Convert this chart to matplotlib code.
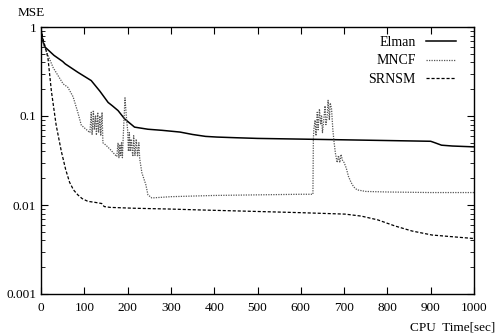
import matplotlib
matplotlib.use("Agg")
import matplotlib.pyplot as plt
from matplotlib.ticker import LogLocator, FixedLocator, NullFormatter, FixedFormatter

# ---- data ----
elman_t = [0, 4, 8.5, 30, 50, 56, 85, 116, 136, 155, 165, 178, 193, 216, 247, 280,
           321, 350, 380, 406, 450, 500, 600, 700, 800, 900, 910, 925, 950, 1000]
elman_v = [0.95, 0.7, 0.6, 0.48, 0.41, 0.385, 0.31, 0.25, 0.19, 0.142, 0.13, 0.115, 0.093,
           0.075, 0.071, 0.069, 0.066, 0.062, 0.059, 0.058, 0.057, 0.056, 0.055, 0.054,
           0.053, 0.052, 0.05, 0.047, 0.046, 0.045]

mncf_t = [0, 4, 8, 28, 51, 62, 74, 85, 93, 101, 113, 116, 118, 121, 123, 126, 128, 131, 133,
          136, 138, 141, 143, 150, 160, 175, 178, 180, 182, 184, 186, 188, 190, 194, 197,
          200, 202, 204, 206, 208, 212, 214, 217, 220, 223, 226, 228, 233, 242, 247, 256,
          300, 400, 500, 600, 628,
          629, 630, 633, 635, 638, 640, 643, 646, 648, 650, 653, 656, 658, 661, 663, 666,
          668, 671, 674, 677, 680, 684, 687, 690, 693, 696, 700, 705, 710, 716, 722, 730,
          750, 800, 900, 1000]
mncf_v = [0.95, 0.7, 0.6, 0.35, 0.23, 0.21, 0.165, 0.11, 0.079, 0.073, 0.065, 0.11, 0.062,
          0.116, 0.07, 0.1, 0.061, 0.11, 0.065, 0.1, 0.06, 0.11, 0.05, 0.047, 0.042, 0.035,
          0.05, 0.034, 0.048, 0.036, 0.05, 0.034, 0.06, 0.16, 0.1, 0.07, 0.04, 0.065, 0.04,
          0.055, 0.035, 0.06, 0.036, 0.055, 0.035, 0.05, 0.033, 0.023, 0.017, 0.013, 0.012,
          0.0124, 0.0128, 0.013, 0.0132, 0.0132,
          0.055, 0.07, 0.09, 0.06, 0.11, 0.07, 0.12, 0.08, 0.1, 0.065, 0.09, 0.13, 0.08,
          0.1, 0.15, 0.09, 0.14, 0.12, 0.07, 0.05, 0.038, 0.03, 0.036, 0.03, 0.037, 0.032,
          0.03, 0.026, 0.021, 0.018, 0.016, 0.0148, 0.0142, 0.014, 0.0138, 0.0138]

srnsm_t = [0, 5, 8.5, 16, 24, 35, 47, 57, 66, 75, 85, 95, 108, 125, 140, 146, 160, 213,
           300, 367, 483, 600, 702, 740, 778, 818, 857, 903, 950, 1000]
srnsm_v = [0.95, 0.72, 0.63, 0.45, 0.19, 0.079, 0.04, 0.025, 0.018, 0.0148, 0.013, 0.0118,
           0.011, 0.0107, 0.0104, 0.0096, 0.0094, 0.0092, 0.009, 0.0088, 0.0085, 0.0082,
           0.0079, 0.0075, 0.0068, 0.0058, 0.0051, 0.0046, 0.0044, 0.0042]

x_ticks = [0, 100, 200, 300, 400, 500, 600, 700, 800, 900, 1000]
y_ticks = [0.001, 0.01, 0.1, 1]
y_labels = ["0.001", "0.01", "0.1", "1"]

plt.rcParams['font.family'] = ['Liberation Serif', 'DejaVu Serif']
plt.rcParams['font.size'] = 9

fig = plt.figure(figsize=(4.95, 3.35), dpi=100)
ax = fig.add_axes([41/495, 41/335, (474-41)/495, (294-27)/335])

ax.plot(elman_t, elman_v, color='black', lw=1.1, label='Elman')
ax.plot(mncf_t, mncf_v, color='#555555', lw=0.9, linestyle=(0, (1, 1)), label='MNCF')
ax.plot(srnsm_t, srnsm_v, color='black', lw=0.9, linestyle=(0, (2.5, 1.5)), label='SRNSM')

ax.set_yscale('log')
ax.set_xlim(0, 1000)
ax.set_ylim(0.001, 1)
ax.xaxis.set_major_locator(FixedLocator(x_ticks))
ax.yaxis.set_major_locator(FixedLocator(y_ticks))
ax.yaxis.set_major_formatter(FixedFormatter(y_labels))
ax.yaxis.set_minor_locator(LogLocator(base=10, subs=range(2, 10)))
ax.yaxis.set_minor_formatter(NullFormatter())
ax.tick_params(which='both', direction='in', top=True, right=True, labelsize=9.5)
ax.tick_params(which='major', length=5, width=0.8)
ax.tick_params(which='minor', length=3, width=0.6)
ax.tick_params(axis='x', pad=6)
for s in ax.spines.values():
    s.set_linewidth(1.0)

fig.text(18/495, 1 - 13/335, "MSE", fontsize=9.5, va='center', ha='left')
fig.text(1.0, 1 - 328/335, "CPU  Time[sec]", fontsize=9.5, va='center', ha='right')

leg = ax.legend(loc='upper right', frameon=False, markerfirst=False, handlelength=2.2,
                labelspacing=0.4, borderaxespad=0.6, fontsize=10, handletextpad=0.7,
                bbox_to_anchor=(1 - 4/433, 1 + 5/267))

fig.savefig("out.png", dpi=100)
